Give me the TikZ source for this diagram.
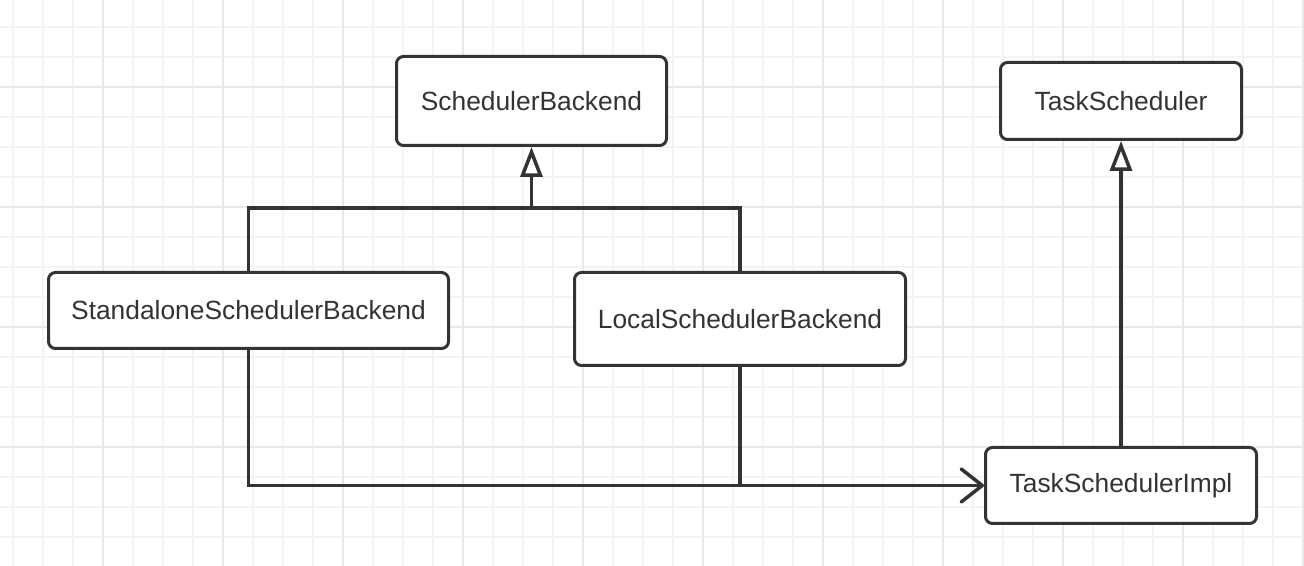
\documentclass[tikz,border=0pt]{standalone}
\usepackage{fontspec}
\setmainfont{Liberation Sans}
\usetikzlibrary{arrows.meta}
\definecolor{ink}{HTML}{333333}
\definecolor{gridminor}{HTML}{F4F4F4}
\definecolor{gridmajor}{HTML}{E8E8E8}
\tikzset{
  cls/.style={draw=ink, line width=0.06cm, rounded corners=0.14cm, fill=white,
    text=ink, font=\fontsize{15}{18}\selectfont, inner sep=0pt},
  conn/.style={draw=ink, line width=0.07cm},
  inherit/.style={conn, -{Triangle[length=0.6cm, width=0.44cm, fill=white]}},
  assoc/.style={conn, -{Straight Barb[round, length=0.42cm, width=0.66cm]}},
}

\begin{document}
\begin{tikzpicture}
                \useasboundingbox (0,0) rectangle (26.08,11.32);
                \fill[white] (0,0) rectangle (26.08,11.32);
                % grid
                \foreach \i in {0,...,43}
                    \draw[gridminor, line width=0.04cm] (0.26+0.6*\i,0) -- (0.26+0.6*\i,11.32);
                \foreach \j in {0,...,17}
                    \draw[gridminor, line width=0.04cm] (0,10.78-0.6*\j) -- (26.08,10.78-0.6*\j);
                \foreach \i in {0,...,10}
                    \draw[gridmajor, line width=0.04cm] (2.06+2.4*\i,0) -- (2.06+2.4*\i,11.32);
                \foreach \j in {0,...,3}
                    \draw[gridmajor, line width=0.04cm] (0,9.58-2.4*\j) -- (26.08,9.58-2.4*\j);
                % classes
                \node[cls, minimum width=5.40cm, minimum height=1.78cm] (sb) at (10.63,9.30) {SchedulerBackend};
                \node[cls, minimum width=4.82cm, minimum height=1.54cm] (ts) at (22.42,9.30) {TaskScheduler};
                \node[cls, minimum width=8.00cm, minimum height=1.52cm] (ssb) at (4.97,5.11) {StandaloneSchedulerBackend};
                \node[cls, minimum width=6.62cm, minimum height=1.86cm] (lsb) at (14.80,4.94) {LocalSchedulerBackend};
                \node[cls, minimum width=5.42cm, minimum height=1.52cm] (tsi) at (22.42,1.61) {TaskSchedulerImpl};
                % relations
                \coordinate (fork) at (10.63,7.16);
                \draw[conn] (ssb.north) |- (fork) -| (lsb.north);
                \draw[inherit] (fork) -- (sb.south);
                \draw[assoc] (ssb.south) |- (tsi.west);
                \draw[conn] (lsb.south) -- (lsb.south |- tsi.west);
                \draw[inherit] (tsi.north) -- (ts.south);
            \end{tikzpicture}
\end{document}
